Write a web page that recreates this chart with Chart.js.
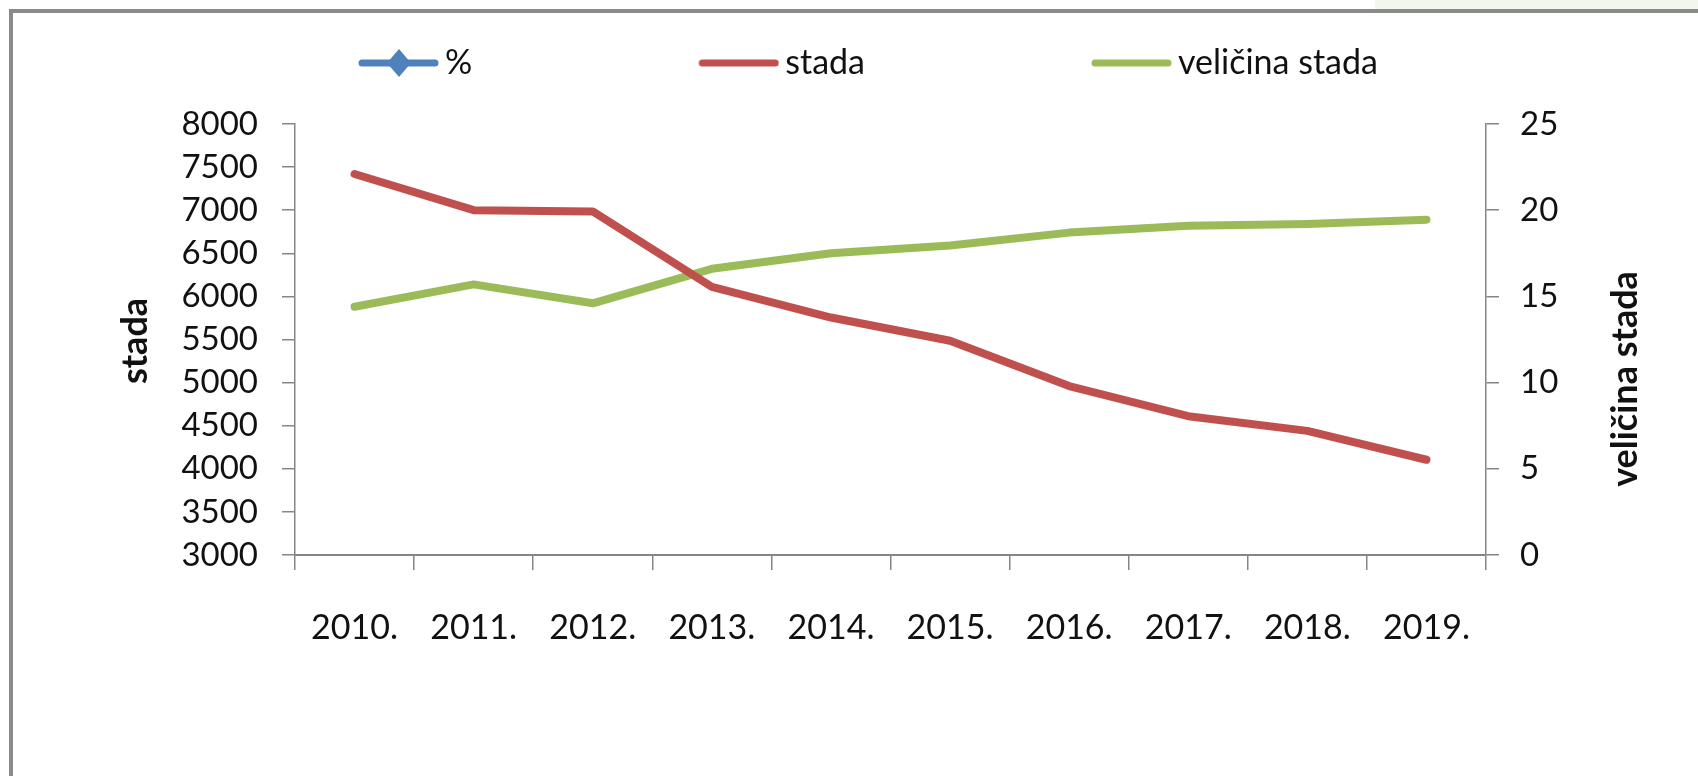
<!DOCTYPE html>
<html>
<head>
<meta charset="utf-8">
<title>stada / veličina stada</title>
<script src="https://cdn.jsdelivr.net/npm/chart.js@4.4.1/dist/chart.umd.min.js"></script>
<style>
  html, body { margin: 0; padding: 0; background: #fff; overflow: hidden; }
  #wrap { position: relative; width: 1698px; height: 776px; }
  #corner { position: absolute; left: 1375px; top: 0; width: 323px; height: 9px; background: #f3f6ee; }
  #frame { position: absolute; left: 9px; top: 9px; width: 2000px; height: 1000px;
           border-left: 4px solid #8a8a8a; border-top: 4px solid #8a8a8a; }
  #chart { position: absolute; left: 0; top: 0; }
</style>
</head>
<body>
<div id="wrap">
  <div id="corner"></div>
  <div id="frame"></div>
  <canvas id="chart" width="1698" height="776"></canvas>
</div>
<script>
// Data
const years = ['2010.', '2011.', '2012.', '2013.', '2014.', '2015.', '2016.', '2017.', '2018.', '2019.'];
const percentValues = [null, null, null, null, null, null, null, null, null, null]; // only in the legend
const herdCount = [7420, 7000, 6985, 6110, 5755, 5485, 4960, 4610, 4440, 4105];
const herdSize = [14.4, 15.7, 14.6, 16.6, 17.5, 17.95, 18.7, 19.1, 19.2, 19.45];
const countTicks = [3000, 3500, 4000, 4500, 5000, 5500, 6000, 6500, 7000, 7500, 8000];
const sizeTicks = [0, 5, 10, 15, 20, 25];
const seriesLabels = ['%', 'stada', 'veličina stada'];
const leftTitle = 'stada';
const rightTitle = 'veličina stada';

const BLUE = '#4f81bd';
const RED = '#c0504d';
const GREEN = '#9bbb59';
const AXIS = '#868686';
const TEXT = '#111';

Chart.defaults.font.family = 'Lato, "Liberation Sans", sans-serif';

// Legend layout (Excel spreads the items out, Chart.js only has one padding)
const legendFont = { family: 'Lato', size: 34 };
const legendTextX = [445, 782, 1178];
const measure = document.createElement('canvas').getContext('2d');
measure.font = `${legendFont.size}px ${legendFont.family}`;
const textW = seriesLabels.map(t => measure.measureText(t).width);
const half = legendFont.size / 2;
const legendPad = 63 - half;
const step = ((legendTextX[1] - legendTextX[0] - textW[0]) + (legendTextX[2] - legendTextX[1] - textW[1])) / 2;
const boxW = step - legendPad - half;
const padLeft = legendTextX[0] - half - boxW - legendPad;
const iconW = Math.round(boxW + legendFont.size - 12);

function makeIcon(color, diamond) {
  const c = document.createElement('canvas');
  c.width = iconW;
  c.height = 34;
  const g = c.getContext('2d');
  g.strokeStyle = color;
  g.lineWidth = 7;
  g.lineCap = 'round';
  g.beginPath();
  g.moveTo(iconW - 77, 17);
  g.lineTo(iconW - 4, 17);
  g.stroke();
  if (diamond) {
    const cx = iconW - 40;
    g.fillStyle = color;
    g.beginPath();
    g.moveTo(cx, 3);
    g.lineTo(cx + 12, 17);
    g.lineTo(cx, 31);
    g.lineTo(cx - 12, 17);
    g.closePath();
    g.fill();
  }
  return c;
}
const legendIcons = [makeIcon(BLUE, true), makeIcon(RED, false), makeIcon(GREEN, false)];

// Axis titles: both read bottom-to-top like in Excel
const axisTitles = {
  id: 'axisTitles',
  afterDraw(chart) {
    const ctx = chart.ctx;
    ctx.save();
    ctx.font = 'bold 36px Lato, "Liberation Sans", sans-serif';
    ctx.fillStyle = TEXT;
    ctx.textAlign = 'center';
    ctx.textBaseline = 'middle';
    [[leftTitle, 135, 341], [rightTitle, 1625, 379]].forEach(([text, x, y]) => {
      ctx.save();
      ctx.translate(x, y);
      ctx.rotate(-Math.PI / 2);
      ctx.fillText(text, 0, 0);
      ctx.restore();
    });
    ctx.restore();
  }
};

const axisGrid = { drawOnChartArea: false, drawTicks: true, tickLength: 13, color: AXIS, lineWidth: 1.5 };
const plainNumber = v => String(v);

new Chart(document.getElementById('chart'), {
  type: 'line',
  data: {
    labels: years,
    datasets: [
      { label: seriesLabels[0], data: percentValues, borderColor: BLUE, backgroundColor: BLUE, yAxisID: 'y' },
      { label: seriesLabels[1], data: herdCount, borderColor: RED, backgroundColor: RED, yAxisID: 'y' },
      { label: seriesLabels[2], data: herdSize, borderColor: GREEN, backgroundColor: GREEN, yAxisID: 'y1' }
    ]
  },
  options: {
    responsive: false,
    animation: false,
    layout: { padding: { left: padLeft, top: 0, right: 0, bottom: 0 } },
    elements: {
      line: { borderWidth: 8, borderCapStyle: 'round', borderJoinStyle: 'round', tension: 0 },
      point: { radius: 0, hoverRadius: 0 }
    },
    plugins: {
      tooltip: { enabled: false },
      legend: {
        position: 'top',
        align: 'start',
        labels: {
          usePointStyle: true,
          pointStyleWidth: boxW,
          padding: legendPad,
          color: TEXT,
          font: legendFont,
          generateLabels: chart => Chart.defaults.plugins.legend.labels.generateLabels(chart)
            .map((item, i) => ({ ...item, pointStyle: legendIcons[i] }))
        }
      }
    },
    scales: {
      x: {
        offset: true,
        grid: { offset: true, drawOnChartArea: false, drawTicks: true, tickLength: 15, color: AXIS, lineWidth: 1.5 },
        border: { color: AXIS, width: 2 },
        ticks: { color: TEXT, font: { size: 34 }, padding: 38, maxRotation: 0, autoSkip: false },
        afterFit: s => { s.height = 221; }
      },
      // empty band between legend and plot
      xTop: {
        type: 'category',
        position: 'top',
        grid: { display: false },
        border: { display: false },
        ticks: { display: false },
        afterFit: s => { s.height = 34; }
      },
      y: {
        position: 'left',
        min: countTicks[0],
        max: countTicks[countTicks.length - 1],
        afterBuildTicks: s => { s.ticks = countTicks.map(v => ({ value: v })); },
        grid: axisGrid,
        border: { color: AXIS, width: 1.5 },
        ticks: { color: TEXT, font: { size: 33 }, padding: 24, callback: plainNumber },
        afterFit: s => { s.width = 295 - padLeft; }
      },
      y1: {
        position: 'right',
        min: sizeTicks[0],
        max: sizeTicks[sizeTicks.length - 1],
        afterBuildTicks: s => { s.ticks = sizeTicks.map(v => ({ value: v })); },
        grid: axisGrid,
        border: { color: AXIS, width: 1.5 },
        ticks: { color: TEXT, font: { size: 33 }, padding: 21, callback: plainNumber },
        afterFit: s => { s.width = 212; }
      }
    }
  },
  plugins: [axisTitles]
});
</script>
</body>
</html>
